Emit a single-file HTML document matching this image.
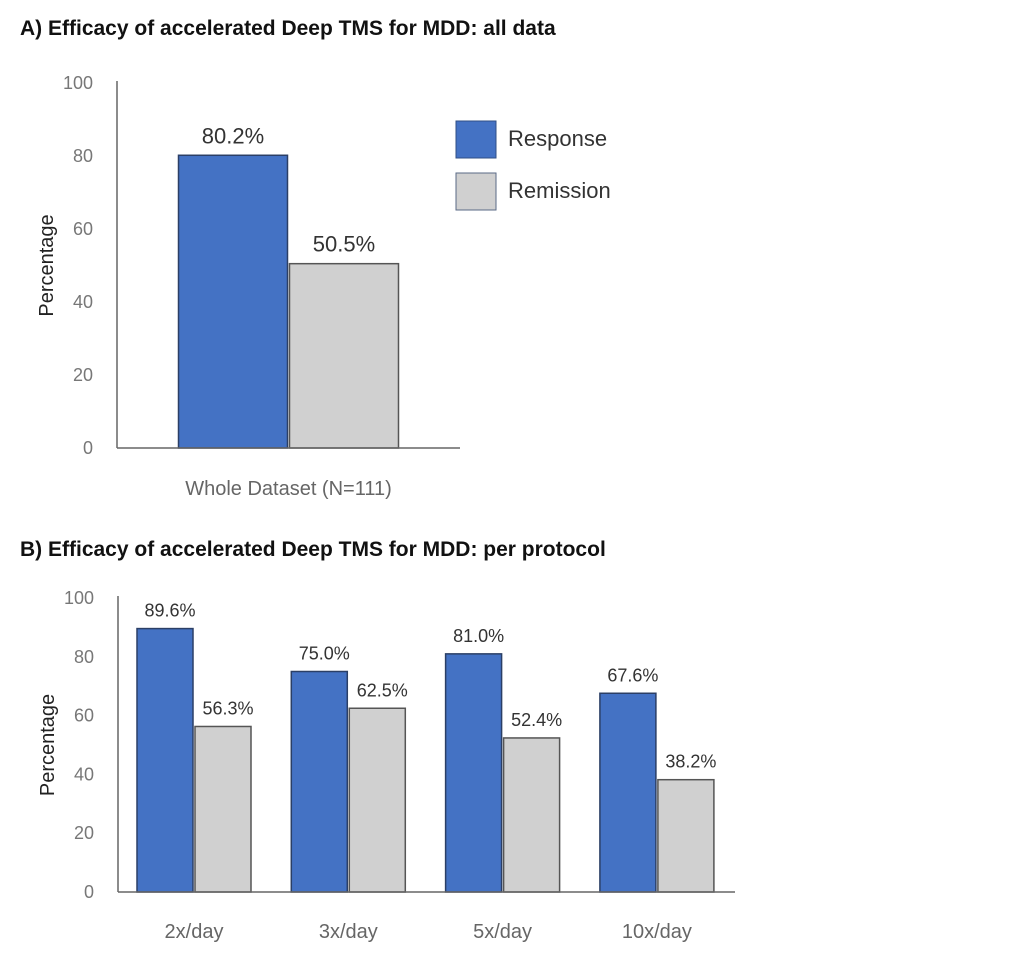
<!DOCTYPE html>
<html><head><meta charset="utf-8"><style>
body{margin:0;background:#fff;width:1028px;height:970px;overflow:hidden}
svg{font-family:"Liberation Sans",sans-serif}
</style></head><body>
<svg id="svg" width="1028" height="970">
<text x="20" y="35" font-size="21" font-weight="bold" fill="#111">A) Efficacy of accelerated Deep TMS for MDD: all data</text>
<text x="20" y="556" font-size="21" font-weight="bold" fill="#111">B) Efficacy of accelerated Deep TMS for MDD: per protocol</text>
<g id="ca"></g>
<g id="cb"></g>
<g>
<rect x="456" y="121" width="40" height="37" fill="#4472c4" stroke="#2f4f86"/>
<text x="508" y="146" font-size="22" fill="#333">Response</text>
<rect x="456" y="173" width="40" height="37" fill="#d0d0d0" stroke="#5a6a86"/>
<text x="508" y="198" font-size="22" fill="#333">Remission</text>
</g>
</svg>
<script>
const catsA=["Whole Dataset (N=111)"];
const respA=[80.2];
const remA=[50.5];
const catsB=["2x/day","3x/day","5x/day","10x/day"];
const respB=[89.6,75.0,81.0,67.6];
const remB=[56.3,62.5,52.4,38.2];
const ticks=[0,20,40,60,80,100];
const NS="http://www.w3.org/2000/svg";
function mk(p,t,a,txt){const e=document.createElementNS(NS,t);for(const k in a)e.setAttribute(k,a[k]);if(txt!=null)e.textContent=txt;p.appendChild(e);return e;}
function draw(g,cats,resp,rem,o){
  const y=v=>o.y0-(o.y0-o.y100)*v/100;
  ticks.forEach(t=>{const e=mk(g,'text',{x:o.ax-24,y:y(t)+6,'font-size':o.tf,'text-anchor':'end',fill:'#777'},t);
    
    });
  const yt=mk(g,'text',{x:0,y:0,'font-size':20,'text-anchor':'middle',fill:'#222',transform:`translate(${o.ax-64},${(o.y0+o.y100)/2}) rotate(-90)`},'Percentage');
  
  
  cats.forEach((c,i)=>{
    const cx=o.c0+i*o.step;
    const b1=mk(g,'rect',{x:cx-o.bw-1,y:y(resp[i]),width:o.bw,height:o.y0-y(resp[i]),fill:'#4472c4',stroke:'#2b3f66','stroke-width':1.5});
    
    
    const b2=mk(g,'rect',{x:cx+1,y:y(rem[i]),width:o.bw,height:o.y0-y(rem[i]),fill:'#d0d0d0',stroke:'#555','stroke-width':1.5});
    
    
    const l1=mk(g,'text',{x:cx-o.bw/2-1+o.lo,y:y(resp[i])-o.lg,'font-size':o.lf,'text-anchor':'middle',fill:'#333'},resp[i].toFixed(1)+'%');
    
    
    const l2=mk(g,'text',{x:cx+o.bw/2+1+o.lo,y:y(rem[i])-o.lg,'font-size':o.lf,'text-anchor':'middle',fill:'#333'},rem[i].toFixed(1)+'%');
    
    
    const cl=mk(g,'text',{x:cx,y:o.cy,'font-size':o.cf,'text-anchor':'middle',fill:'#666'},c);
    
    
  });
  const a1=mk(g,'line',{x1:o.ax,y1:o.y100-2,x2:o.ax,y2:o.y0,stroke:'#666','stroke-width':1.5});
  
  
  const a2=mk(g,'line',{x1:o.ax,y1:o.y0,x2:o.xe,y2:o.y0,stroke:'#666','stroke-width':1.5});
  
  
}
draw(document.getElementById('ca'),catsA,respA,remA,{ax:117,xe:460,y0:448,y100:83,c0:288.5,step:0,bw:109,tf:18,lf:22,lg:12,lo:0,cy:495,cf:20});
draw(document.getElementById('cb'),catsB,respB,remB,{ax:118,xe:735,y0:892,y100:598,c0:194,step:154.3,bw:56,tf:18,lf:18,lg:12,lo:5,cy:938,cf:20});
</script>
</body></html>
